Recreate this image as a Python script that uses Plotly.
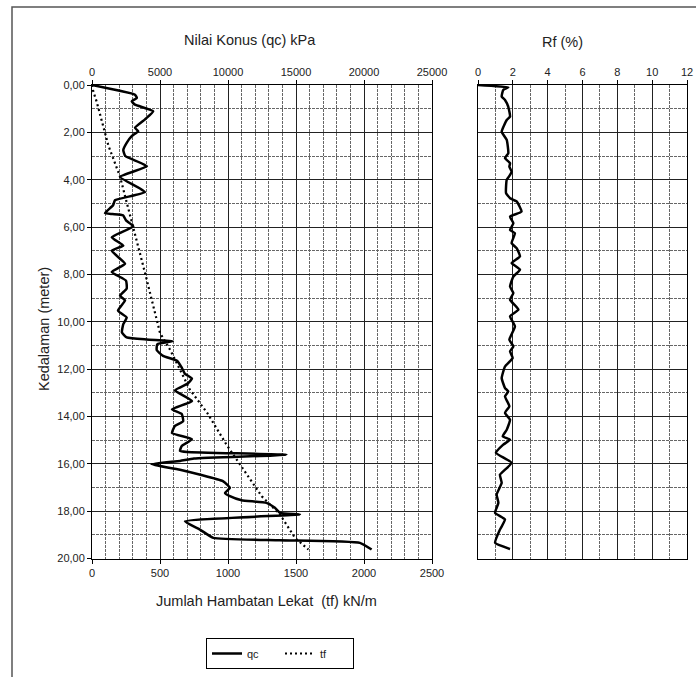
import plotly.graph_objects as go

# ---- data ----
qc_depth = [0.0, 0.41, 0.55, 0.69, 0.83, 1.11, 1.45, 1.81, 1.95, 2.16, 2.44, 2.75, 3.0, 3.43, 3.88,
            4.52, 4.87, 5.08, 5.41, 5.45, 5.5, 5.72, 5.97, 6.43, 6.78, 7.0, 7.55, 7.9, 8.26, 8.6,
            8.9, 9.1, 9.53, 9.82, 10.1, 10.45, 10.66, 10.75, 10.82, 10.95, 11.2, 11.44, 11.65, 11.94,
            12.2, 12.4, 12.6, 12.9, 13.35, 13.7, 13.9, 14.2, 14.4, 14.7, 14.96, 15.25, 15.45, 15.5,
            15.62, 15.78, 15.88, 16.02, 16.25, 16.74, 17.02, 17.23, 17.37, 17.54, 17.65, 17.86, 18.07,
            18.14, 18.43, 18.78, 19.13, 19.23, 19.34, 19.62]
qc_value = [0, 3160, 3300, 2920, 3160, 4500, 3900, 3160, 3400, 2920, 2550, 2300, 2450, 4040, 2060,
            3900, 1690, 1550, 955, 1500, 2280, 2500, 3040, 1450, 2300, 1450, 2430, 1450, 2500, 2550,
            2060, 2430, 1910, 2550, 2300, 2200, 2550, 4000, 5950, 4800, 4760, 5220, 6250, 6600,
            6840, 7350, 7060, 6100, 7350, 5880, 6600, 6700, 6100, 5880, 7350, 6600, 6470, 7000,
            14300, 7500, 6470, 4380, 6470, 9650, 10140, 9780, 10140, 11000, 12830, 13450, 13820,
            15290, 6840, 7940, 8920, 13820, 19700, 20560]

tf_depth = [0.0, 0.28, 0.7, 1.27, 1.83, 2.55, 3.87, 5.98, 7.94, 10.47, 11.18, 12.87, 13.84, 15.2,
            16.03, 16.67, 17.37, 18.14, 18.57, 19.13, 19.62]
tf_value = [0, 10, 34, 59, 83, 120, 206, 303, 390, 500, 574, 720, 846, 990,
            1088, 1162, 1248, 1382, 1431, 1493, 1591]

rf_depth = [0.0, 0.1, 0.21, 0.49, 0.63, 0.92, 1.34, 1.48, 1.97, 2.32, 2.88, 3.09, 3.3, 3.45, 3.66,
            3.8, 4.0, 4.57, 4.78, 4.92, 5.35, 5.56, 5.84, 6.12, 6.26, 6.68, 6.89, 7.24, 7.52, 7.8,
            8.09, 8.51, 8.79, 9.07, 9.49, 9.77, 10.2, 10.76, 11.04, 11.25, 11.53, 11.89, 12.38, 12.8,
            12.94, 13.15, 13.57, 13.85, 14.14, 14.56, 14.84, 14.98, 15.19, 15.54, 15.96, 16.46, 16.81,
            17.3, 17.65, 18.07, 18.35, 18.78, 19.34, 19.6]
rf_value = [0.0, 1.74, 1.45, 1.36, 1.55, 1.74, 1.84, 1.65, 1.36, 1.65, 1.74, 1.55, 1.84, 1.8, 1.93,
            1.84, 1.65, 1.61, 1.84, 2.22, 2.5, 1.84, 2.03, 1.84, 2.12, 1.93, 2.22, 2.41, 1.93, 2.41,
            2.03, 1.84, 2.03, 1.84, 2.32, 1.84, 2.12, 1.8, 2.03, 1.84, 1.99, 1.55, 1.36, 1.55,
            1.74, 1.55, 1.8, 1.55, 1.84, 1.65, 1.42, 1.84, 1.45, 1.03, 1.93, 1.26, 1.36,
            1.07, 1.17, 0.98, 1.55, 1.26, 0.98, 1.84]

depth_ticks = [0, 2, 4, 6, 8, 10, 12, 14, 16, 18, 20]
depth_labels = ["0,00", "2,00", "4,00", "6,00", "8,00", "10,00", "12,00", "14,00", "16,00", "18,00", "20,00"]
qc_ticks = [0, 5000, 10000, 15000, 20000, 25000]
qc_labels = ["0", "5000", "10000", "15000", "20000", "25000"]
tf_ticks = [0, 500, 1000, 1500, 2000, 2500]
tf_labels = ["0", "500", "1000", "1500", "2000", "2500"]
rf_ticks = [0, 2, 4, 6, 8, 10, 12]
rf_labels = ["0", "2", "4", "6", "8", "10", "12"]

# ---- layout geometry ----
W, H = 696, 677
def px(x):
    return x / W
def py(y):
    return 1 - y / H

left_dom = [px(92), px(432)]
right_dom = [px(478), px(687)]
y_dom = [py(558.5), py(85)]

FONT = "Liberation Sans, Arial, sans-serif"
tickfont = dict(family=FONT, size=11, color="#222")
titlefont = dict(family=FONT, size=14.5, color="#222")

fig = go.Figure()
fig.add_trace(go.Scatter(x=qc_value, y=qc_depth, xaxis="x2", yaxis="y", mode="lines",
                         name="qc", line=dict(color="black", width=2.5, shape="spline", smoothing=0.4)))
fig.add_trace(go.Scatter(x=tf_value, y=tf_depth, xaxis="x", yaxis="y", mode="lines",
                         name="tf", line=dict(color="black", width=2.2, dash="2px,3px")))
fig.add_trace(go.Scatter(x=rf_value, y=rf_depth, xaxis="x3", yaxis="y2", mode="lines",
                         name="Rf", showlegend=False,
                         line=dict(color="black", width=2.5, shape="spline", smoothing=0.4)))

major_grid = "#222"
minor_grid = "#666"
minor_dash = "3px,1px"

fig.update_layout(
    width=W, height=H, autosize=False,
    margin=dict(l=0, r=0, t=0, b=0, pad=0, autoexpand=False),
    paper_bgcolor="white", plot_bgcolor="white",
    font=dict(family=FONT, size=11, color="#222"),
    xaxis=dict(domain=left_dom, anchor="y", side="bottom", range=[0, 2500],
               tickvals=tf_ticks, ticktext=tf_labels, tickfont=tickfont,
               showgrid=False, zeroline=False, showline=True, linecolor="black", linewidth=1,
               ticks="outside", ticklen=4, tickcolor="black"),
    xaxis2=dict(overlaying="x", anchor="y", side="top", range=[0, 25000],
                tickvals=qc_ticks, ticktext=qc_labels, tickfont=tickfont,
                showgrid=True, gridcolor=major_grid, gridwidth=1, zeroline=False,
                showline=True, linecolor="black", linewidth=1,
                ticks="outside", ticklen=4, tickcolor="black",
                minor=dict(dtick=1000, tick0=0, showgrid=True, gridcolor=minor_grid,
                           griddash=minor_dash, gridwidth=1)),
    yaxis=dict(domain=y_dom, anchor="x", range=[20, 0],
               tickvals=depth_ticks, ticktext=depth_labels, tickfont=tickfont,
               showgrid=True, gridcolor=major_grid, gridwidth=1, zeroline=False,
               showline=True, linecolor="black", linewidth=1, mirror=True,
               ticks="outside", ticklen=4, tickcolor="black",
               minor=dict(dtick=1, tick0=0, showgrid=True, gridcolor=minor_grid,
                          griddash=minor_dash, gridwidth=1)),
    xaxis3=dict(domain=right_dom, anchor="y2", side="top", range=[0, 12],
                tickvals=rf_ticks, ticktext=rf_labels, tickfont=tickfont,
                showgrid=True, gridcolor=major_grid, gridwidth=1, zeroline=False,
                showline=True, linecolor="black", linewidth=1, mirror=True,
                ticks="outside", ticklen=4, tickcolor="black",
                minor=dict(dtick=1, tick0=0, showgrid=True, gridcolor=minor_grid,
                           griddash=minor_dash, gridwidth=1)),
    yaxis2=dict(domain=y_dom, anchor="x3", range=[20, 0],
                tickvals=depth_ticks, showticklabels=False,
                showgrid=True, gridcolor=major_grid, gridwidth=1, zeroline=False,
                showline=True, linecolor="black", linewidth=1, mirror=True,
                minor=dict(dtick=1, tick0=0, showgrid=True, gridcolor=minor_grid,
                           griddash=minor_dash, gridwidth=1)),
    legend=dict(orientation="h", x=px(206), y=py(638), xanchor="left", yanchor="top",
                bordercolor="black", borderwidth=1, bgcolor="white",
                font=dict(family=FONT, size=11, color="#222"), entrywidth=28,
                tracegroupgap=0, itemwidth=30),
    showlegend=True,
)

annotations = [
    dict(text="Nilai Konus (qc) kPa", x=px(250), y=py(30), xref="paper", yref="paper",
         showarrow=False, font=titlefont),
    dict(text="Rf (%)", x=px(585), y=py(32), xref="paper", yref="paper",
         showarrow=False, font=titlefont),
    dict(text="Kedalaman (meter)", x=px(34), y=py(329), xref="paper", yref="paper",
         showarrow=False, textangle=-90, font=titlefont),
    dict(text="Jumlah Hambatan Lekat  (tf) kN/m", x=px(266), y=py(611), xref="paper", yref="paper",
         showarrow=False, font=titlefont),
]
fig.update_layout(annotations=annotations)

# outer frame of the picture
fig.add_shape(type="rect", xref="paper", yref="paper",
              x0=px(12), y0=-0.02, x1=1.02, y1=py(7),
              line=dict(color="#555", width=1.5), fillcolor="rgba(0,0,0,0)", layer="below")

fig.write_html("out.html", config={"displayModeBar": False},
               post_script="document.body.style.margin='0';document.body.style.overflow='hidden';")
